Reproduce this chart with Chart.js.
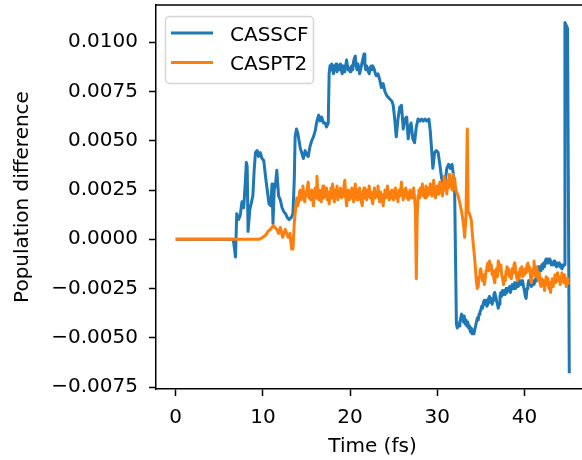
<!DOCTYPE html>
<html><head><meta charset="utf-8">
<script src="https://cdn.jsdelivr.net/npm/chart.js@4"></script>
<style>
html,body{margin:0;padding:0;background:#fff;overflow:hidden;width:582px;height:460px}
#wrap{width:582px;height:460px;overflow:hidden;position:relative}
canvas{display:block}
</style></head>
<body><div id="wrap"><canvas id="c" width="600" height="460"></canvas></div>
<script>
const seriesLabels = ['CASSCF', 'CASPT2'];
const seriesColors = ['#1f77b4', '#ff7f0e'];

const casscfTime = [
0,6.6,6.75,6.86,7.0,7.2,7.4,7.6,7.8,8.0,8.1,8.2,8.3,8.5,8.7,8.85,9.0,9.15,9.35,9.5,9.7,9.9,10.1,10.3,10.5,10.7,10.9,11.05,11.16,11.3,11.45,11.6,11.8,12.0,12.2,12.4,12.6,12.8,13.0,13.25,13.45,13.6,13.7,13.85,14.0,14.15,14.3,14.45,14.65,14.85,15.0,15.2,15.4,15.6,15.8,16.0,16.2,16.4,16.55,16.75,16.95,17.15,17.3,17.5,
17.6,17.7,17.8,17.9,18.0,18.1,18.2,18.3,18.4,18.5,18.6,18.7,18.8,18.9,19.0,19.1,19.2,19.3,19.4,19.5,19.6,19.7,19.8,19.9,20.0,20.1,20.2,20.3,20.4,20.5,20.6,20.7,20.8,20.9,21.0,21.1,21.2,21.3,21.4,21.5,21.6,21.7,21.8,21.9,22.0,22.1,22.2,22.3,22.4,22.5,22.6,22.7,22.8,22.9,23.0,
23.2,23.4,23.6,23.8,24.0,24.2,24.4,24.6,24.8,24.95,25.1,25.3,25.5,25.7,25.9,26.1,26.3,26.5,26.67,26.85,27.0,27.2,27.4,27.6,27.8,28.0,28.2,28.4,28.6,28.8,29.05,29.2,29.35,29.5,29.7,29.9,30.1,30.3,30.5,30.7,30.9,31.1,31.3,31.5,31.7,31.85,32.0,
32.1,32.2,32.3,32.4,32.5,32.6,32.7,32.8,32.9,33.0,33.1,33.2,33.3,33.4,33.5,33.6,33.7,33.8,33.9,34.0,34.1,34.2,34.3,34.4,34.5,34.6,34.7,34.8,34.9,35.0,35.1,35.2,35.3,35.4,35.5,35.6,35.7,35.8,35.9,36.0,36.1,36.2,36.3,36.4,36.5,36.6,36.7,36.8,36.9,37.0,37.1,37.2,
37.3,37.4,37.5,37.6,37.7,37.8,37.9,38.0,38.1,38.2,38.3,38.4,38.5,38.6,38.7,38.8,38.9,39.0,39.1,39.2,39.3,39.4,39.5,39.6,39.7,39.8,39.9,40.0,40.1,40.2,40.3,40.4,40.5,40.6,40.7,40.8,40.9,41.0,41.1,41.2,41.3,41.4,41.5,41.6,41.7,41.8,41.9,42.0,42.1,42.2,42.3,42.4,42.5,42.6,42.7,42.8,42.9,43.0,43.1,43.2,43.3,43.4,43.5,43.6,43.7,43.8,43.9,44.0,44.1,44.2,44.3,44.4,
44.55,44.65,44.95,45.15];
const casscfValues = [
0,0,-0.0005,-0.0009,0.0013,0.0010,0.0012,0.0019,0.0016,0.0030,0.0039,0.0037,0.0004,0.0015,0.0019,0.0022,0.0035,0.0044,0.0045,0.0042,0.0044,0.0041,0.0040,0.0032,0.0025,0.0018,0.0017,0.0028,0.0008,0.0025,0.0028,0.0035,0.0022,0.0020,0.0016,0.0014,0.0013,0.0011,0.0010,0.0011,0.0013,0.0030,0.0052,0.0056,0.0054,0.0050,0.0046,0.0044,0.0041,0.0045,0.0043,0.0042,0.0047,0.0050,0.0052,0.0055,0.0060,0.0063,0.0060,0.0062,0.0059,0.0059,0.0057,0.0059,
0.0084,0.0088,0.0086,0.0089,0.0086,0.0084,0.0088,0.0087,0.0089,0.0085,0.0087,0.0088,0.0086,0.0089,0.0086,0.0084,0.0088,0.0086,0.0085,0.0088,0.0091,0.0088,0.0086,0.0087,0.0085,0.0087,0.0088,0.0086,0.0090,0.0092,0.0093,0.0088,0.0086,0.0089,0.0087,0.0084,0.0086,0.0088,0.0090,0.0092,0.0094,0.0089,0.0086,0.0088,0.0087,0.0085,0.0084,0.0087,0.0088,0.0086,0.0088,0.0087,0.0086,0.0084,0.0083,
0.0084,0.0081,0.0077,0.0079,0.0075,0.0073,0.0072,0.0071,0.0070,0.0068,0.0062,0.0052,0.0061,0.0067,0.0068,0.0056,0.0061,0.0062,0.0051,0.0057,0.0059,0.0051,0.0049,0.0057,0.0061,0.0060,0.0061,0.0060,0.0061,0.0060,0.0061,0.0055,0.0046,0.0036,0.0044,0.0045,0.0044,0.0038,0.0031,0.0028,0.0029,0.0036,0.0038,0.0036,0.0038,0.0033,0.0024,
-0.0010,-0.0043,-0.0045,-0.0043,-0.0044,-0.0042,-0.0040,-0.0038,-0.0040,-0.0042,-0.0039,-0.0043,-0.0041,-0.0044,-0.0042,-0.0045,-0.0044,-0.0047,-0.0045,-0.0048,-0.0046,-0.0048,-0.0046,-0.0044,-0.0042,-0.0040,-0.0041,-0.0038,-0.0037,-0.0036,-0.0034,-0.0035,-0.0032,-0.0031,-0.0033,-0.0031,-0.0034,-0.0033,-0.0030,-0.0029,-0.0032,-0.0030,-0.0033,-0.0031,-0.0028,-0.0027,-0.0029,-0.0031,-0.0033,-0.0035,-0.0033,-0.0029,
-0.0027,-0.0029,-0.0026,-0.0028,-0.0026,-0.0028,-0.0025,-0.0027,-0.0025,-0.0026,-0.0024,-0.0027,-0.0025,-0.0023,-0.0025,-0.0024,-0.0022,-0.0025,-0.0023,-0.0022,-0.0024,-0.0021,-0.0023,-0.0021,-0.0023,-0.0021,-0.0024,-0.0026,-0.0029,-0.0030,-0.0025,-0.0023,-0.0021,-0.0023,-0.0022,-0.0024,-0.0022,-0.0023,-0.0021,-0.0022,-0.0020,-0.0021,-0.0017,-0.0014,-0.0016,-0.0014,-0.0016,-0.0013,-0.0015,-0.0012,-0.0014,-0.0011,-0.0010,-0.0012,-0.0010,-0.0012,-0.0010,-0.0011,-0.0013,-0.0012,-0.0013,-0.0011,-0.0013,-0.0012,-0.0014,-0.0012,-0.0013,-0.0012,-0.0014,-0.0013,-0.0015,-0.0014,
-0.0013,0.0110,0.0107,-0.0068];

const caspt2Time = [
0,9.3,9.6,10.0,10.3,10.6,10.86,11.2,11.4,11.6,11.8,12.0,12.27,12.57,12.9,13.1,13.3,13.45,13.6,13.7,
13.9,14.0,14.1,14.2,14.3,14.4,14.5,14.6,14.7,14.8,14.9,15.0,15.1,15.2,15.3,15.4,15.5,15.6,15.7,15.8,15.9,16.0,16.1,16.2,16.3,16.4,16.5,16.6,16.7,16.8,16.9,17.0,17.1,17.2,17.3,17.4,17.5,17.6,17.7,17.8,17.9,18.0,18.1,18.2,18.3,18.4,18.5,18.6,18.7,18.8,18.9,19.0,19.1,19.2,19.3,19.4,19.5,19.6,19.7,19.8,19.9,20.0,20.1,20.2,20.3,20.4,20.5,20.6,20.7,20.8,20.9,21.0,21.1,21.2,21.3,21.4,21.5,21.6,21.7,21.8,21.9,22.0,22.1,22.2,22.3,22.4,22.5,22.6,22.7,22.8,22.9,23.0,23.1,23.2,23.3,23.4,23.5,23.6,23.7,23.8,23.9,24.0,24.1,24.2,24.3,24.4,24.5,24.6,24.7,24.8,24.9,25.0,25.1,25.2,25.3,25.4,25.5,25.6,25.7,25.8,25.9,26.0,26.1,26.2,26.3,26.4,26.5,26.6,26.7,26.8,26.9,27.0,27.1,27.2,27.3,27.4,27.5,27.6,27.7,27.8,27.9,28.0,28.1,28.2,28.3,28.4,28.5,28.6,28.7,28.8,28.9,29.0,29.1,29.2,29.3,29.4,29.5,29.6,29.7,29.8,29.9,30.0,30.1,30.2,30.3,30.4,30.5,30.6,30.7,30.8,30.9,31.0,31.1,31.2,31.3,31.4,31.5,31.6,31.7,31.8,31.9,32.0,32.1,32.2,
32.4,32.6,32.8,33.0,33.15,33.3,33.45,33.55,33.7,33.9,34.1,34.3,
34.5,34.6,34.7,34.8,34.9,35.0,35.1,35.2,35.3,35.4,35.5,35.6,35.7,35.8,35.9,36.0,36.1,36.2,36.3,36.4,36.5,36.6,36.7,36.8,36.9,37.0,37.1,37.2,37.3,37.4,37.5,37.6,37.7,37.8,37.9,38.0,38.1,38.2,38.3,38.4,38.5,38.6,38.7,38.8,38.9,39.0,39.1,39.2,39.3,39.4,39.5,39.6,39.7,39.8,39.9,40.0,40.1,40.2,40.3,40.4,40.5,40.6,40.7,40.8,40.9,41.0,41.1,41.2,41.3,41.4,41.5,41.6,41.7,41.8,41.9,42.0,42.1,42.2,42.3,42.4,42.5,42.6,42.7,42.8,42.9,43.0,43.1,43.2,43.3,43.4,43.5,43.6,43.7,43.8,43.9,44.0,44.1,44.2,44.3,44.4,44.5,44.6,44.7,44.8,44.9,45.0,45.1];
const caspt2Values = [
0,0,0,0.0001,0.0002,0.0004,0.0005,0.0007,0.0006,0.0005,0.0003,0.0006,0.0001,0.0005,0.0001,0.0003,-0.0005,-0.0005,0.0008,0.0013,
0.0021,0.0017,0.0019,0.0024,0.0025,0.0020,0.0023,0.0027,0.0022,0.0019,0.0024,0.0022,0.0026,0.0029,0.0021,0.0024,0.0020,0.0025,0.0022,0.0017,0.0023,0.0026,0.0021,0.0032,0.0024,0.0020,0.0025,0.0023,0.0019,0.0024,0.0027,0.0021,0.0025,0.0022,0.0026,0.0020,0.0024,0.0018,0.0023,0.0026,0.0021,0.0028,0.0022,0.0019,0.0025,0.0023,0.0027,0.0020,0.0024,0.0022,0.0026,0.0021,0.0025,0.0022,0.0027,0.0030,0.0022,0.0017,0.0023,0.0025,0.0020,0.0024,0.0021,0.0026,0.0022,0.0019,0.0024,0.0028,0.0023,0.0020,0.0025,0.0022,0.0026,0.0021,0.0019,0.0017,0.0024,0.0026,0.0021,0.0023,0.0020,0.0025,0.0022,0.0027,0.0021,0.0024,0.0020,0.0018,0.0023,0.0026,0.0021,0.0024,0.0022,0.0027,0.0021,0.0019,0.0024,0.0022,0.0020,0.0017,0.0023,0.0025,0.0021,0.0023,0.0027,0.0022,0.0020,0.0024,0.0021,0.0025,0.0022,0.0020,0.0024,0.0026,0.0021,0.0023,0.0019,0.0025,0.0022,0.0024,0.0029,0.0023,0.0020,0.0025,0.0022,0.0026,0.0021,0.0024,0.0020,0.0023,0.0025,0.0021,0.0024,0.0022,0.0026,0.0021,0.0015,-0.0020,0.0012,0.0022,0.0025,0.0021,0.0026,0.0023,0.0028,0.0022,0.0025,0.0021,0.0027,0.0024,0.0022,0.0026,0.0023,0.0028,0.0024,0.0022,0.0027,0.0030,0.0024,0.0021,0.0025,0.0027,0.0023,0.0026,0.0029,0.0024,0.0027,0.0022,0.0026,0.0032,0.0025,0.0028,0.0023,0.0030,0.0026,0.0033,0.0027,0.0031,0.0025,0.0033,0.0028,0.0031,0.0026,0.0024,
0.0022,0.0018,0.0014,0.0008,0.0001,0.0012,0.0056,0.0014,0.0013,0.0010,-0.0001,-0.0010,
-0.0022,-0.0025,-0.0024,-0.0019,-0.0016,-0.0015,-0.0019,-0.0021,-0.0018,-0.0023,-0.0020,-0.0016,-0.0014,-0.0012,-0.0016,-0.0011,-0.0015,-0.0013,-0.0018,-0.0016,-0.0020,-0.0022,-0.0017,-0.0015,-0.0019,-0.0011,-0.0014,-0.0016,-0.0013,-0.0018,-0.0020,-0.0023,-0.0019,-0.0021,-0.0016,-0.0014,-0.0018,-0.0015,-0.0019,-0.0017,-0.0020,-0.0015,-0.0017,-0.0013,-0.0012,-0.0016,-0.0019,-0.0021,-0.0017,-0.0020,-0.0015,-0.0017,-0.0014,-0.0019,-0.0016,-0.0018,-0.0015,-0.0017,-0.0013,-0.0012,-0.0016,-0.0014,-0.0019,-0.0022,-0.0018,-0.0015,-0.0011,-0.0016,-0.0019,-0.0014,-0.0018,-0.0021,-0.0017,-0.0022,-0.0024,-0.0020,-0.0023,-0.0021,-0.0026,-0.0022,-0.0019,-0.0023,-0.0020,-0.0025,-0.0022,-0.0027,-0.0023,-0.0020,-0.0024,-0.0021,-0.0018,-0.0022,-0.0019,-0.0017,-0.0021,-0.0019,-0.0023,-0.0020,-0.0017,-0.0019,-0.0022,-0.0018,-0.0021,-0.0024,-0.0020,-0.0022,-0.0023];

const xTicks = [0, 10, 20, 30, 40];
const yTicks = [-0.0075, -0.005, -0.0025, 0, 0.0025, 0.005, 0.0075, 0.01];

const FONT = 'DejaVu Sans';
const pts = (t, v) => t.slice(0, Math.min(t.length, v.length)).map((x, i) => ({x: x, y: v[i]}));
const noPad = s => { s.paddingTop = 0; s.paddingBottom = 0; s.paddingLeft = 0; s.paddingRight = 0; };

const frameLegendPlugin = {
  id: 'frameLegend',
  afterDraw(chart) {
    const {ctx, chartArea: a} = chart;
    ctx.save();
    ctx.strokeStyle = '#000';
    ctx.lineWidth = 1.5;
    ctx.beginPath();
    ctx.moveTo(a.left, a.top); ctx.lineTo(a.right, a.top);
    ctx.stroke();
    const bx = 165.5, by = 16.5, bw = 148, bh = 67, r = 4;
    ctx.beginPath();
    ctx.roundRect(bx, by, bw, bh, r);
    ctx.fillStyle = 'rgba(255,255,255,0.8)';
    ctx.fill();
    ctx.strokeStyle = 'rgba(204,204,204,0.8)';
    ctx.lineWidth = 1.5;
    ctx.stroke();
    const rows = [33, 62.5];
    chart.data.datasets.forEach((ds, i) => {
      const y = rows[i];
      ctx.strokeStyle = ds.borderColor;
      ctx.lineWidth = 3;
      ctx.beginPath(); ctx.moveTo(171, y); ctx.lineTo(213, y); ctx.stroke();
      ctx.fillStyle = '#000';
      ctx.font = '20px "' + FONT + '"';
      ctx.textBaseline = 'alphabetic';
      ctx.textAlign = 'left';
      ctx.fillText(ds.label, 230, y + 7.6);
    });
    ctx.restore();
  }
};

new Chart(document.getElementById('c'), {
  type: 'line',
  data: {
    datasets: [
      {label: seriesLabels[0], data: pts(casscfTime, casscfValues), borderColor: seriesColors[0], order: 2},
      {label: seriesLabels[1], data: pts(caspt2Time, caspt2Values), borderColor: seriesColors[1], order: 1}
    ]
  },
  options: {
    responsive: false,
    devicePixelRatio: 1,
    animation: false,
    layout: {padding: {left: 0, top: 5, right: 11, bottom: 0}},
    elements: {
      point: {radius: 0, hoverRadius: 0},
      line: {borderWidth: 3, tension: 0, borderJoinStyle: 'round', borderCapStyle: 'butt'}
    },
    plugins: {legend: {display: false}, tooltip: {enabled: false}},
    scales: {
      x: {
        type: 'linear',
        min: -2.26, max: 47.41,
        afterBuildTicks: s => { s.ticks = xTicks.map(v => ({value: v})); },
        afterFit: s => { s.height = 71; noPad(s); },
        border: {display: true, color: '#000', width: 1.5},
        grid: {display: true, drawOnChartArea: false, drawTicks: true, tickLength: 7, tickWidth: 1.5, tickColor: '#000'},
        ticks: {color: '#000', font: {family: FONT, size: 20}, padding: 10, maxRotation: 0, callback: v => String(v)},
        title: {display: true, text: 'Time (fs)', color: '#000', font: {family: FONT, size: 20}, padding: {top: 0, bottom: 1}}
      },
      y: {
        type: 'linear',
        min: -0.0076, max: 0.01189,
        afterBuildTicks: s => { s.ticks = yTicks.map(v => ({value: v})); },
        afterFit: s => { s.width = 156; noPad(s); },
        border: {display: true, color: '#000', width: 1.5},
        grid: {display: true, drawOnChartArea: false, drawTicks: true, tickLength: 7, tickWidth: 1.5, tickColor: '#000'},
        ticks: {color: '#000', font: {family: FONT, size: 20}, padding: 11,
          callback: v => (v < 0 ? '\u2212' : '') + Math.abs(v).toFixed(4)},
        title: {display: true, text: 'Population difference', color: '#000', font: {family: FONT, size: 20}, padding: {top: 11, bottom: 0}}
      }
    }
  },
  plugins: [frameLegendPlugin]
});
</script>
</body></html>
